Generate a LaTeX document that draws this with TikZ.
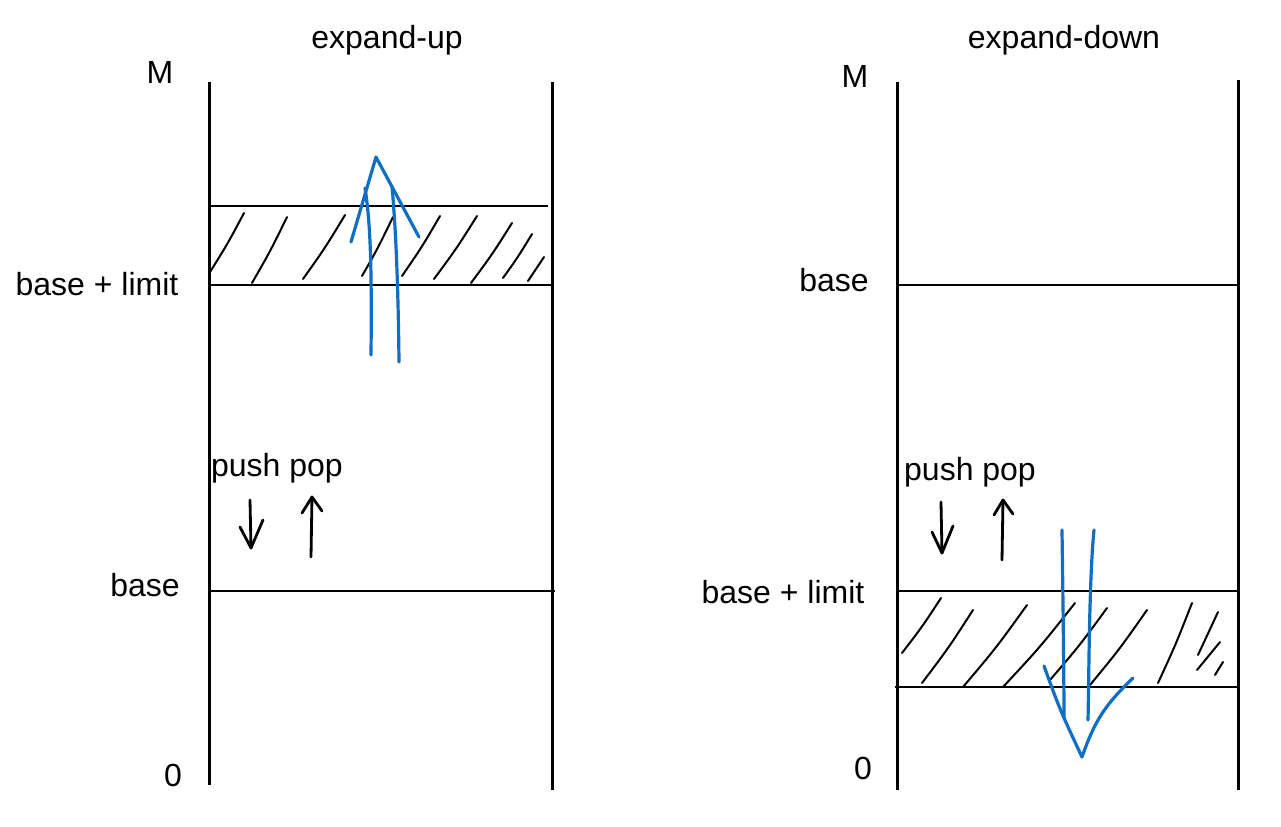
\documentclass[tikz,border=0pt]{standalone}
\usepackage{fontspec}
\setmainfont{Liberation Sans}
\begin{document}
\begin{tikzpicture}[x=0.5pt,y=-0.5pt,
  wall/.style={line width=1.5pt,black},
  rule/.style={line width=1.3pt,black},
  hatch/.style={line width=1pt,black,line cap=round},
  blue arrow/.style={line width=1.6pt,draw=arrowblue,line cap=round,line join=round},
  small arrow/.style={line width=1.4pt,black,line cap=round,line join=round},
  lbl/.style={font=\fontsize{16}{18}\selectfont,inner sep=0pt}]
\definecolor{arrowblue}{RGB}{16,110,196}
\useasboundingbox (0,0) rectangle (1281,826);
% ---------- left panel ----------
\node[lbl] (tup) at (387,40) {expand-up};
\node[lbl] (mL) at (160,72) {M};
\node[lbl] (blL) at (97,284) {base + limit};
\node[lbl] (bL) at (145,585) {base};
\node[lbl] (zL) at (173,775) {0};
\node[lbl] (ppL) at (277,468) {push pop};
\draw[wall] (209,82) -- (209,785);
\draw[wall] (552,82) -- (552,790);
\draw[rule] (208,206) -- (548,206);
\draw[rule] (208,285) -- (552,285);
\draw[rule] (208,591) -- (555,591);
\foreach \a/\b/\c/\d in {210/272/244/213, 252/283/287/217, 303/279/345/215, 362/276/393/217, 402/276/440/216, 434/279/477/216, 471/283/512/223, 503/278/532/234, 528/281/544/257}
  \draw[hatch] (\a,\b) .. controls ({\a+0.52*(\c-\a)},{\b+0.48*(\d-\b)}) .. (\c,\d);
\draw[small arrow] (250,500) -- (251,548);
\draw[small arrow] (240,527) -- (251,548) -- (263,520);
\draw[small arrow] (311,557) -- (312,497);
\draw[small arrow] (302,513) -- (312,497) -- (322,511);
\draw[blue arrow] (371,355) .. controls (372,260) and (370,220) .. (365,188);
\draw[blue arrow] (399,362) .. controls (398,270) and (395,220) .. (392,186);
\draw[blue arrow] (351,242) -- (376,157) -- (419,237);
% ---------- right panel ----------
\node[lbl] (tdn) at (1064,40) {expand-down};
\node[lbl] (mR) at (855,76) {M};
\node[lbl] (bR) at (834,280) {base};
\node[lbl] (blR) at (783,592) {base + limit};
\node[lbl] (zR) at (863,768) {0};
\node[lbl] (ppR) at (970,472) {push pop};
\draw[wall] (897,82) -- (897,790);
\draw[wall] (1238,80) -- (1238,790);
\draw[rule] (897,285) -- (1238,285);
\draw[rule] (897,591) -- (1238,591);
\draw[rule] (895,687) -- (1238,687);
\foreach \a/\b/\c/\d in {902/653/941/598, 922/683/973/610, 963/687/1027/605, 1003/687/1075/603, 1050/680/1107/608, 1090/685/1147/610, 1158/683/1192/603, 1198/655/1218/612, 1197/670/1220/642, 1215/675/1223/662}
  \draw[hatch] (\a,\b) .. controls ({\a+0.52*(\c-\a)},{\b+0.48*(\d-\b)}) .. (\c,\d);
\draw[small arrow] (941,502) -- (942,553);
\draw[small arrow] (932,532) -- (942,553) -- (953,526);
\draw[small arrow] (1002,560) -- (1003,500);
\draw[small arrow] (994,515) -- (1003,500) -- (1013,514);
\draw[blue arrow] (1062,530) .. controls (1063,600) and (1064,680) .. (1064,718);
\draw[blue arrow] (1094,530) .. controls (1089,580) and (1089,680) .. (1088,720);
\draw[blue arrow] (1044,666) .. controls (1060,710) .. (1082,757) .. controls (1095,720) and (1105,705) .. (1133,678);
\end{tikzpicture}
\end{document}
